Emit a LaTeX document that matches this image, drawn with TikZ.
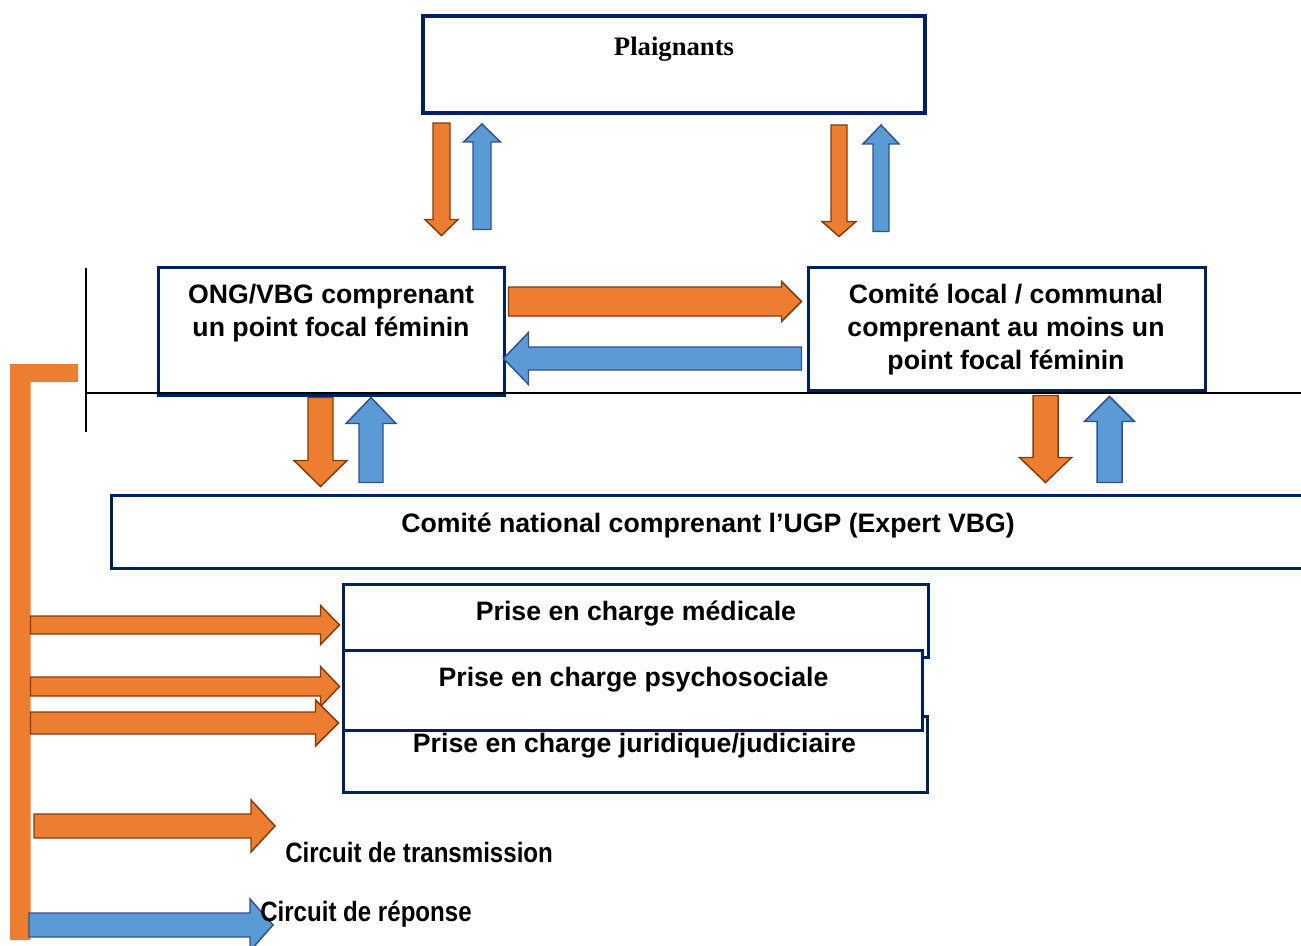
\documentclass[tikz,border=0pt]{standalone}
\usepackage{fontspec}
\setmainfont{Liberation Sans}
\newfontfamily\titlefont{Liberation Serif}
\newfontfamily\legendfont[FakeStretch=0.86]{Liberation Sans}
\usetikzlibrary{calc,fit}

\definecolor{navybox}{RGB}{0,32,96}
\definecolor{orgfill}{RGB}{237,125,49}
\definecolor{orgline}{RGB}{132,60,12}
\definecolor{bluefill}{RGB}{91,155,213}
\definecolor{blueline}{RGB}{47,82,143}

\tikzset{
  box/.style={draw=navybox, line width=2.25pt, fill=white, inner sep=0pt},
  txt/.style={inner sep=0.75pt, align=center, font=\bfseries\fontsize{20}{24.75}\selectfont},
  legtxt/.style={inner sep=0.75pt, anchor=west, font=\legendfont\bfseries\fontsize{21}{25}\selectfont},
  transm/.style={fill=orgfill, draw=orgline, line width=1.1pt},
  repon/.style={fill=bluefill, draw=blueline, line width=1.1pt},
}

% block arrow: style, from, to, half shaft, half head, head length (in px)
\newcommand{\blockarrow}[6]{%
  \coordinate (ba-h) at ($(#3)!#6*0.75pt!(#2)$);
  \draw[#1] ($(#2)!#4*0.75pt!90:(#3)$) -- ($(ba-h)!#4*0.75pt!90:(#3)$) -- ($(ba-h)!#5*0.75pt!90:(#3)$) -- (#3) -- ($(ba-h)!#5*0.75pt!-90:(#3)$) -- ($(ba-h)!#4*0.75pt!-90:(#3)$) -- ($(#2)!#4*0.75pt!-90:(#3)$) -- cycle;
}

\begin{document}
\begin{tikzpicture}[x=0.75pt,y=0.75pt,yscale=-1,xscale=1]
\useasboundingbox (0,0) rectangle (1301,945);
\clip (0,0) rectangle (1301,945);

%Shape: Rectangle [plaignants]
\node[box, line width=3pt, fit={(423,16) (925,113)}] (plaig) {};
%Shape: Rectangle [ONG]
\node[box, fit={(158,267) (504,395)}] (ong) {};
%Shape: Rectangle [comite local]
\node[box, fit={(808,267) (1205,390)}] (local) {};
%Shape: Rectangle [comite national]
\node[box, fit={(111,495) (1310,568)}] (natl) {};
%Shape: Rectangle [prises en charge]
\node[box, fit={(343,584) (928,657)}] (med) {};
\node[box, fit={(343,716) (927,792)}] (jur) {};
\node[box, fit={(343,650) (922,730)}] (psy) {};

%Straight Lines
\draw[line width=1.7pt] (86,268) -- (86,432);
\draw[line width=1.7pt] (86,393) -- (1310,393);

%Shape: orange bar
\fill[orgfill] (10,940) -- (10,364) -- (78,364) -- (78,382) -- (30.5,382) -- (30.5,940) -- cycle;
\coordinate (bar1) at (30.5,625);
\coordinate (bar2) at (30.5,686.5);
\coordinate (bar3) at (30.5,723);

% arrow ends
\coordinate (a1s) at ($(plaig.south)+(-232.5,8)$);
\coordinate (a1e) at ($(ong.north)+(110.5,-30)$);
\coordinate (a2s) at ($(ong.north)+(151,-36)$);
\coordinate (a2e) at ($(plaig.south)+(-192,9)$);
\coordinate (a3s) at ($(plaig.south)+(165,10)$);
\coordinate (a3e) at ($(local.north)+(-167.5,-29)$);
\coordinate (a4s) at ($(local.north)+(-125.5,-34)$);
\coordinate (a4e) at ($(plaig.south)+(207,10)$);
\coordinate (a5s) at ($(ong.east)+(3,-29.5)$);
\coordinate (a5e) at ($(local.west)+(-5,-27)$);
\coordinate (a6s) at ($(local.west)+(-5,30)$);
\coordinate (a6e) at ($(ong.east)+(-2,27.5)$);
\coordinate (a7s) at ($(ong.south)+(-10.5,1)$);
\coordinate (a7e) at ($(natl.north)+(-390,-7)$);
\coordinate (a8s) at ($(natl.north)+(-339.5,-11)$);
\coordinate (a8e) at ($(ong.south)+(40,1)$);
\coordinate (a9s) at ($(local.south)+(39,4)$);
\coordinate (a9e) at ($(natl.north)+(335,-11)$);
\coordinate (a10s) at ($(natl.north)+(399,-11)$);
\coordinate (a10e) at ($(local.south)+(103,5)$);

%Block Arrows
\blockarrow{transm}{a1s}{a1e}{8.5}{16.5}{16}
\blockarrow{repon}{a2s}{a2e}{9}{18.5}{18}
\blockarrow{transm}{a3s}{a3e}{8}{17}{15}
\blockarrow{repon}{a4s}{a4e}{8}{18}{19}
\blockarrow{transm}{a5s}{a5e}{14.5}{20}{20}
\blockarrow{repon}{a6s}{a6e}{11.5}{26}{25}
\blockarrow{transm}{a7s}{a7e}{12.5}{26.5}{26}
\blockarrow{repon}{a8s}{a8e}{12}{25}{26}
\blockarrow{transm}{a9s}{a9e}{12.5}{26}{25}
\blockarrow{repon}{a10s}{a10e}{12.5}{25}{25}
\blockarrow{transm}{bar1}{$(med.west)+(-2,4.5)$}{9}{19.5}{19}
\blockarrow{transm}{bar2}{$(psy.west)+(-2,-3.5)$}{9.5}{20}{19}
\blockarrow{transm}{bar3}{$(jur.west)+(-3,-31)$}{11}{23}{23}

% legend
\coordinate (lg1s) at (34,826);
\coordinate (lg1e) at (275,826);
\coordinate (lg2s) at (29,925);
\coordinate (lg2e) at (273,925);
\blockarrow{transm}{lg1s}{lg1e}{12}{26}{24}
\blockarrow{repon}{lg2s}{lg2e}{12}{26}{23}

% Text Node
\node[txt, font=\titlefont\bfseries\fontsize{20}{24.75}\selectfont] (plaigtxt) at (674,49) {Plaignants};
% Text Node
\node[txt] (ongtxt) at (331,313) {ONG/VBG comprenant\\un point focal féminin};
% Text Node
\node[txt] (localtxt) at (1006,329.5) {Comité local / communal\\comprenant au moins un\\point focal féminin};
% Text Node
\node[txt] (natltxt) at (708,525.5) {Comité national comprenant l’UGP (Expert VBG)};
% Text Node
\node[txt] (medtxt) at (636,613.5) {Prise en charge médicale};
% Text Node
\node[txt] (psytxt) at (633.5,679.5) {Prise en charge psychosociale};
% Text Node
\node[txt] (jurtxt) at (634.5,745.5) {Prise en charge juridique/judiciaire};
% Text Node
\node[legtxt] (lg1txt) at (284,852) {Circuit de transmission};
% Text Node
\node[legtxt] (lg2txt) at (259,914) {Circuit de réponse};

\end{tikzpicture}
\end{document}
